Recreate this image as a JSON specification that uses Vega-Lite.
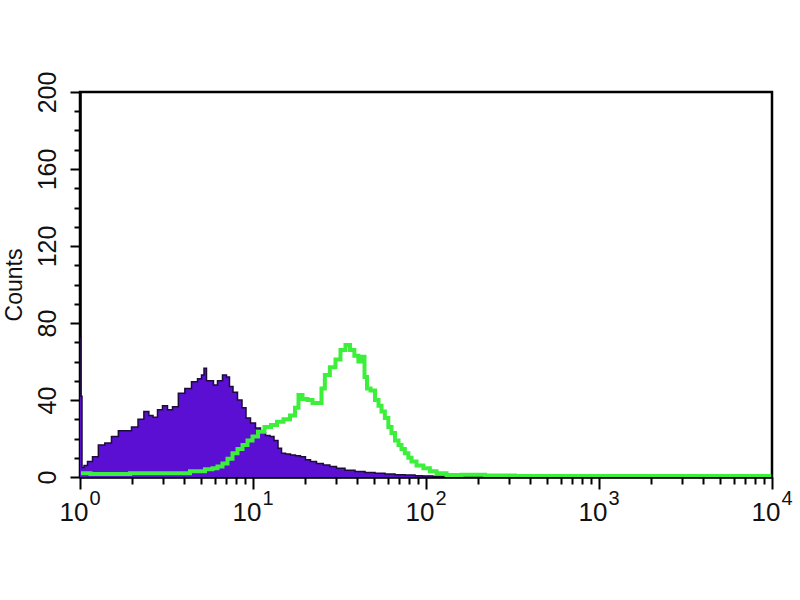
{
  "$schema": "https://vega.github.io/schema/vega-lite/v6.json",
  "autosize": "none",
  "padding": {"left": 80, "top": 92, "right": 28, "bottom": 123},
  "width": 692,
  "height": 385,
  "background": "white",
  "datasets": {
    "purple": [
      {"x": 1.0, "count": 72}, {"x": 1.013, "count": 42}, {"x": 1.041, "count": 5},
      {"x": 1.069, "count": 6}, {"x": 1.142, "count": 8}, {"x": 1.221, "count": 10.5},
      {"x": 1.335, "count": 16.6}, {"x": 1.451, "count": 17.6}, {"x": 1.593, "count": 21},
      {"x": 1.742, "count": 24}, {"x": 1.894, "count": 24}, {"x": 2.079, "count": 26},
      {"x": 2.253, "count": 30}, {"x": 2.43, "count": 34}, {"x": 2.573, "count": 32},
      {"x": 2.714, "count": 31}, {"x": 2.9, "count": 35}, {"x": 3.099, "count": 37},
      {"x": 3.313, "count": 35}, {"x": 3.541, "count": 36.5}, {"x": 3.871, "count": 43.5},
      {"x": 4.21, "count": 46}, {"x": 4.621, "count": 49.5}, {"x": 4.939, "count": 51},
      {"x": 5.14, "count": 53}, {"x": 5.279, "count": 56.5}, {"x": 5.494, "count": 50},
      {"x": 5.794, "count": 50}, {"x": 6.03, "count": 47.8}, {"x": 6.445, "count": 50},
      {"x": 6.888, "count": 53}, {"x": 7.169, "count": 52}, {"x": 7.461, "count": 47},
      {"x": 7.87, "count": 44}, {"x": 8.412, "count": 40}, {"x": 8.872, "count": 36},
      {"x": 9.357, "count": 30.6}, {"x": 10.0, "count": 28}, {"x": 10.69, "count": 25.5},
      {"x": 11.42, "count": 23}, {"x": 12.21, "count": 21.5}, {"x": 12.88, "count": 21},
      {"x": 13.58, "count": 19}, {"x": 14.33, "count": 15}, {"x": 14.91, "count": 12.4},
      {"x": 15.94, "count": 12}, {"x": 17.03, "count": 11.4}, {"x": 18.2, "count": 11},
      {"x": 19.45, "count": 10.5}, {"x": 20.79, "count": 9}, {"x": 22.23, "count": 8},
      {"x": 24.39, "count": 7}, {"x": 26.67, "count": 6.2}, {"x": 29.0, "count": 5.5},
      {"x": 31.84, "count": 4.6}, {"x": 36.37, "count": 3.5}, {"x": 41.55, "count": 2.8},
      {"x": 47.47, "count": 2.3}, {"x": 54.22, "count": 2}, {"x": 61.94, "count": 1.5},
      {"x": 70.76, "count": 1.2}, {"x": 80.84, "count": 1}, {"x": 92.35, "count": 0.7},
      {"x": 98.67, "count": 0.5}, {"x": 120.5, "count": 0.3}, {"x": 157.2, "count": 0}
    ],
    "green": [
      {"x": 1.013, "count": 2}, {"x": 1.305, "count": 1.5}, {"x": 1.703, "count": 1.5},
      {"x": 2.222, "count": 2}, {"x": 2.9, "count": 2}, {"x": 3.784, "count": 2},
      {"x": 4.939, "count": 3}, {"x": 5.642, "count": 4}, {"x": 6.03, "count": 4.6},
      {"x": 6.445, "count": 5.5}, {"x": 6.888, "count": 7}, {"x": 7.363, "count": 9.5},
      {"x": 7.87, "count": 12.4}, {"x": 8.412, "count": 14.5}, {"x": 8.99, "count": 16.6},
      {"x": 9.609, "count": 19}, {"x": 10.27, "count": 21}, {"x": 11.12, "count": 23.5},
      {"x": 12.21, "count": 26}, {"x": 13.22, "count": 27}, {"x": 14.33, "count": 28.7},
      {"x": 15.72, "count": 30}, {"x": 17.03, "count": 32}, {"x": 17.96, "count": 36},
      {"x": 18.69, "count": 42.6}, {"x": 19.98, "count": 40.5}, {"x": 21.35, "count": 40},
      {"x": 22.83, "count": 38.5}, {"x": 24.39, "count": 38.4}, {"x": 25.39, "count": 46},
      {"x": 26.67, "count": 53}, {"x": 29.0, "count": 57}, {"x": 30.99, "count": 61},
      {"x": 33.13, "count": 66}, {"x": 35.41, "count": 68.6}, {"x": 37.35, "count": 66},
      {"x": 39.77, "count": 63}, {"x": 41.55, "count": 60}, {"x": 43.24, "count": 62.5},
      {"x": 45.01, "count": 52}, {"x": 46.21, "count": 46}, {"x": 49.39, "count": 45},
      {"x": 52.11, "count": 40}, {"x": 54.22, "count": 37}, {"x": 56.43, "count": 34},
      {"x": 59.28, "count": 30.6}, {"x": 61.94, "count": 26}, {"x": 64.45, "count": 22.8},
      {"x": 67.97, "count": 19}, {"x": 70.76, "count": 16.6}, {"x": 73.64, "count": 14.5},
      {"x": 77.35, "count": 12.4}, {"x": 80.84, "count": 10}, {"x": 84.13, "count": 8},
      {"x": 92.35, "count": 6}, {"x": 100.9, "count": 4.6}, {"x": 109.8, "count": 3},
      {"x": 120.5, "count": 2}, {"x": 143.3, "count": 1}, {"x": 179.6, "count": 1.2},
      {"x": 267.8, "count": 0.8}, {"x": 399.2, "count": 0.5}, {"x": 595.1, "count": 0.5},
      {"x": 1013, "count": 0.5}, {"x": 1726, "count": 0.5}, {"x": 2939, "count": 0.5},
      {"x": 5005, "count": 0.5}, {"x": 8524, "count": 0.5}, {"x": 9900, "count": 0.5}
    ]
  },
  "encoding": {
    "y": {
      "field": "count",
      "type": "quantitative",
      "scale": {"domain": [0, 200], "nice": false},
      "title": "Counts",
      "axis": {
        "values": [0, 10, 20, 30, 40, 50, 60, 70, 80, 90, 100, 110, 120, 130, 140, 150, 160, 170, 180, 190, 200],
        "labelExpr": "datum.value % 40 === 0 ? datum.label : ''",
        "grid": false,
        "domainColor": "black",
        "domainWidth": 2.5,
        "tickColor": "black",
        "tickWidth": 2,
        "tickSize": {"condition": {"test": "datum.value % 40 === 0", "value": 10}, "value": 6},
        "labelAngle": -90,
        "labelFont": "Liberation Sans",
        "labelFontSize": 25,
        "labelColor": "#111",
        "labelPadding": 10,
        "labelOverlap": false,
        "labelFlush": false,
        "titleFont": "Liberation Sans",
        "titleFontSize": 23,
        "titleFontWeight": "normal",
        "titleColor": "#111",
        "titlePadding": 9
      }
    }
  },
  "layer": [
    {
      "data": {"name": "purple"},
      "mark": {"type": "area", "interpolate": "step", "color": "#5a0fd2", "clip": true},
      "encoding": {
        "x": {
          "field": "x",
          "type": "quantitative",
          "scale": {"type": "log", "domain": [1, 10000]},
          "title": null,
          "axis": {
            "values": [1, 2, 3, 4, 5, 6, 7, 8, 9, 10, 20, 30, 40, 50, 60, 70, 80, 90, 100, 200, 300, 400, 500, 600, 700, 800, 900, 1000, 2000, 3000, 4000, 5000, 6000, 7000, 8000, 9000, 10000],
            "labels": false,
            "grid": false,
            "domainColor": "black",
            "domainWidth": 2.5,
            "tickColor": "black",
            "tickWidth": 2,
            "tickSize": {"condition": {"test": "indexof([1, 10, 100, 1000, 10000], datum.value) >= 0", "value": 12}, "value": 7}
          }
        }
      }
    },
    {
      "data": {"name": "purple"},
      "mark": {"type": "line", "interpolate": "step", "color": "#1c0c3c", "strokeWidth": 1.5, "clip": true},
      "encoding": {
        "x": {
          "field": "x",
          "type": "quantitative",
          "title": null,
          "axis": {
            "orient": "bottom",
            "values": [1, 10, 100, 1000, 10000],
            "labelExpr": "'10'",
            "domain": false,
            "ticks": false,
            "grid": false,
            "labelAlign": "right",
            "labelOffset": 8,
            "labelPadding": 22,
            "labelFont": "Liberation Sans",
            "labelFontSize": 26,
            "labelColor": "#111",
            "labelOverlap": false,
            "labelFlush": false
          }
        }
      }
    },
    {
      "data": {"name": "green"},
      "mark": {"type": "line", "interpolate": "step", "color": "#3bef3b", "strokeWidth": 4, "clip": true},
      "encoding": {
        "x": {
          "field": "x",
          "type": "quantitative",
          "title": null,
          "axis": {
            "orient": "bottom",
            "values": [1, 10, 100, 1000, 10000],
            "labelExpr": "format(log(datum.value) / LN10, '.0f')",
            "domain": false,
            "ticks": false,
            "grid": false,
            "labelAlign": "left",
            "labelOffset": 9,
            "labelPadding": 11,
            "labelFont": "Liberation Sans",
            "labelFontSize": 20,
            "labelColor": "#111",
            "labelOverlap": false,
            "labelFlush": false
          }
        }
      }
    }
  ],
  "resolve": {"axis": {"x": "independent"}},
  "config": {
    "view": {"stroke": "black", "strokeWidth": 2.5}
  }
}
